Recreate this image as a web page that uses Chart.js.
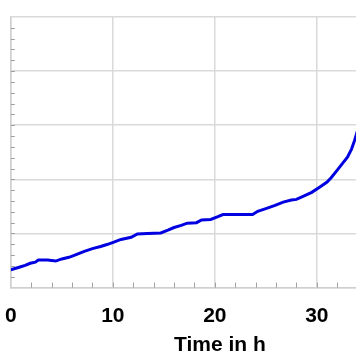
<!DOCTYPE html>
<html>
<head>
<meta charset="utf-8">
<script src="https://cdn.jsdelivr.net/npm/chart.js@4"></script>
<style>
  html, body { margin: 0; padding: 0; background: #fff; overflow: hidden; }
  #wrap { width: 457px; height: 364px; margin-left: -11.5px; }
</style>
</head>
<body>
<div id="wrap"><canvas id="myChart"></canvas></div>
<script>
// time in hours and measured value (arbitrary units)
const times = [0, 0.9, 1.4, 1.9, 2.4, 2.7, 3.6, 4.4, 5.0, 5.7, 6.4, 7.2, 8.0, 8.8, 9.5,
  10.1, 10.8, 11.8, 12.4, 13.4, 14.7, 15.4, 16.0, 16.7, 17.3, 18.2, 18.7, 19.6, 20.3,
  20.8, 22.1, 23.7, 24.2, 25.0, 25.9, 26.7, 27.5, 28.0, 28.7, 29.5, 30.3, 31.0, 31.4,
  32.0, 32.5, 33.0, 33.4, 33.7, 34.0];
const values = [0.33, 0.38, 0.41, 0.45, 0.47, 0.51, 0.51, 0.49, 0.53, 0.56, 0.61, 0.67,
  0.72, 0.76, 0.80, 0.84, 0.89, 0.93, 0.99, 1.00, 1.01, 1.06, 1.11, 1.15, 1.19, 1.20,
  1.25, 1.26, 1.31, 1.35, 1.35, 1.35, 1.41, 1.46, 1.52, 1.58, 1.62, 1.63, 1.69, 1.76,
  1.86, 1.95, 2.03, 2.17, 2.29, 2.41, 2.56, 2.72, 2.91];
const xTicks = [0, 10, 20, 30, 40];
const xTitle = "Time in h";

const points = times.map((t, i) => ({ x: t, y: values[i] }));

// small inward minor ticks on the left and bottom axes
const minorTicks = {
  id: "minorTicks",
  afterDraw(chart) {
    const { ctx, chartArea, scales } = chart;
    ctx.save();
    ctx.strokeStyle = "#a0a0a0";
    ctx.lineWidth = 1;
    for (let v = 0.2; v < 5; v += 0.2) {
      const y = Math.round(scales.y.getPixelForValue(v)) + 0.5;
      ctx.beginPath();
      ctx.moveTo(chartArea.left, y);
      ctx.lineTo(chartArea.left + 4, y);
      ctx.stroke();
    }
    for (let v = 2; v < 41; v += 2) {
      const x = Math.round(scales.x.getPixelForValue(v)) + 0.5;
      ctx.beginPath();
      ctx.moveTo(x, chartArea.bottom);
      ctx.lineTo(x, chartArea.bottom - 5);
      ctx.stroke();
    }
    ctx.restore();
  }
};

const ctx = document.getElementById("myChart").getContext("2d");

const myChart = new Chart(ctx, {
  type: "scatter",
  data: {
    datasets: [{
      data: points,
      showLine: true,
      borderColor: "#0000e0",
      borderWidth: 3,
      pointRadius: 0,
      tension: 0
    }]
  },
  options: {
    responsive: true,
    maintainAspectRatio: false,
    animation: false,
    layout: { padding: { left: 0, top: 17, right: 0, bottom: 0 } },
    plugins: { legend: { display: false }, tooltip: { enabled: false } },
    scales: {
      x: {
        type: "linear",
        min: 0,
        max: 41,
        afterBuildTicks: (axis) => { axis.ticks = xTicks.map((v) => ({ value: v })); },
        grid: { color: "#dadada", lineWidth: 1.5, drawTicks: false },
        border: { color: "#cfcfcf", width: 1.5 },
        ticks: {
          color: "#000",
          padding: 16,
          maxRotation: 0,
          font: { family: "'Liberation Sans', Arial, sans-serif", size: 21, weight: "bold" }
        },
        title: {
          display: true,
          text: xTitle,
          color: "#000",
          padding: { top: -12, bottom: 6 },
          font: { family: "'Liberation Sans', Arial, sans-serif", size: 21, weight: "bold" }
        }
      },
      y: {
        min: 0,
        max: 5,
        ticks: { display: false, stepSize: 1 },
        grid: { color: "#dadada", lineWidth: 1.5, drawTicks: false },
        border: { color: "#cfcfcf", width: 1.5 }
      }
    }
  },
  plugins: [minorTicks]
});
</script>
</body>
</html>
